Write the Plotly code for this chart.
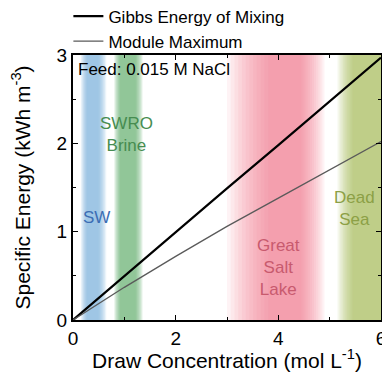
import plotly.graph_objects as go

# ---- data ----
conc = [0, 1, 2, 3, 4, 5, 6]
gibbs = [0, 0.50, 0.99, 1.49, 1.98, 2.48, 2.97]
module_max = [0, 0.37, 0.72, 1.06, 1.38, 1.70, 2.02]

band_names = ["SW", "SWRO<br>Brine", "Great<br>Salt<br>Lake", "Dead<br>Sea"]
band_lo = [0.15, 0.80, 3.0, 5.15]
band_hi = [0.65, 1.36, 4.9, 6.0]
band_core_lo = [0.27, 0.92, 3.8, 5.45]
band_core_hi = [0.50, 1.22, 4.45, 6.0]
band_colors = ["rgb(120,170,225)", "rgb(90,170,110)", "rgb(240,115,135)", "rgb(165,185,80)"]
label_colors = ["rgb(60,110,180)", "rgb(70,140,80)", "rgb(200,90,110)", "rgb(140,160,70)"]
label_x = [0.46, 1.05, 4.0, 5.49]
label_y = [1.16, 2.1, 0.59, 1.26]

x_ticks = [0, 2, 4, 6]
y_ticks = [0, 1, 2, 3]

fig = go.Figure()

# gradient bands: nested rectangles
steps = 12
for lo, hi, clo, chi, col in zip(band_lo, band_hi, band_core_lo, band_core_hi, band_colors):
    for i in range(steps):
        f = i / (steps - 1)
        x0 = lo + (clo - lo) * f
        x1 = hi + (chi - hi) * f
        fig.add_shape(type="rect", xref="x", yref="y", x0=x0, x1=x1, y0=0, y1=3,
                      fillcolor=col, opacity=0.085, line_width=0, layer="below")

fig.add_trace(go.Scatter(x=conc, y=gibbs, mode="lines", name="Gibbs Energy of Mixing",
                         line=dict(color="black", width=2.2)))
fig.add_trace(go.Scatter(x=conc, y=module_max, mode="lines", name="Module Maximum",
                         line=dict(color="rgb(90,90,90)", width=1.3)))

for name, lx, ly, lc in zip(band_names, label_x, label_y, label_colors):
    fig.add_annotation(x=lx, y=ly, text=name, showarrow=False, xref="x", yref="y",
                       font=dict(size=17, color=lc), align="center")

fig.add_annotation(x=0.05, y=2.84, xref="x", yref="y", text="Feed: 0.015 M NaCl",
                   showarrow=False, xanchor="left", yanchor="middle",
                   font=dict(size=17, color="black"))

axis_common = dict(showline=True, linecolor="black", linewidth=2, mirror="ticks",
                   ticks="inside", ticklen=5, tickcolor="black", showgrid=False,
                   zeroline=False, tickfont=dict(size=19, color="black"),
                   ticklabeloverflow="allow",
                   minor=dict(ticks="inside", ticklen=3, tickcolor="black"))

fig.update_xaxes(range=[0, 6], tickvals=x_ticks, ticktext=[str(t) for t in x_ticks],
                 minor_dtick=1,
                 title=dict(text="Draw Concentration (mol L<sup>-1</sup>)",
                            font=dict(size=21, color="black"), standoff=4),
                 **axis_common)
fig.update_yaxes(range=[0, 3], tickvals=y_ticks, ticktext=[str(t) for t in y_ticks],
                 minor_dtick=0.5,
                 title=dict(text="Specific Energy (kWh m<sup>-3</sup>)",
                            font=dict(size=21, color="black"), standoff=23),
                 **axis_common)

fig.update_layout(
    width=374, height=364,
    margin=dict(l=65, r=1, t=47, b=52, autoexpand=False),
    paper_bgcolor="white", plot_bgcolor="white",
    font=dict(family="Liberation Sans, Arial, sans-serif", color="black"),
    showlegend=True,
    legend=dict(x=-0.015, y=1.213, xanchor="left", yanchor="top",
                font=dict(size=17, color="black"), bgcolor="rgba(0,0,0,0)",
                tracegroupgap=0, itemwidth=30),
)

fig.write_html("out.html")
